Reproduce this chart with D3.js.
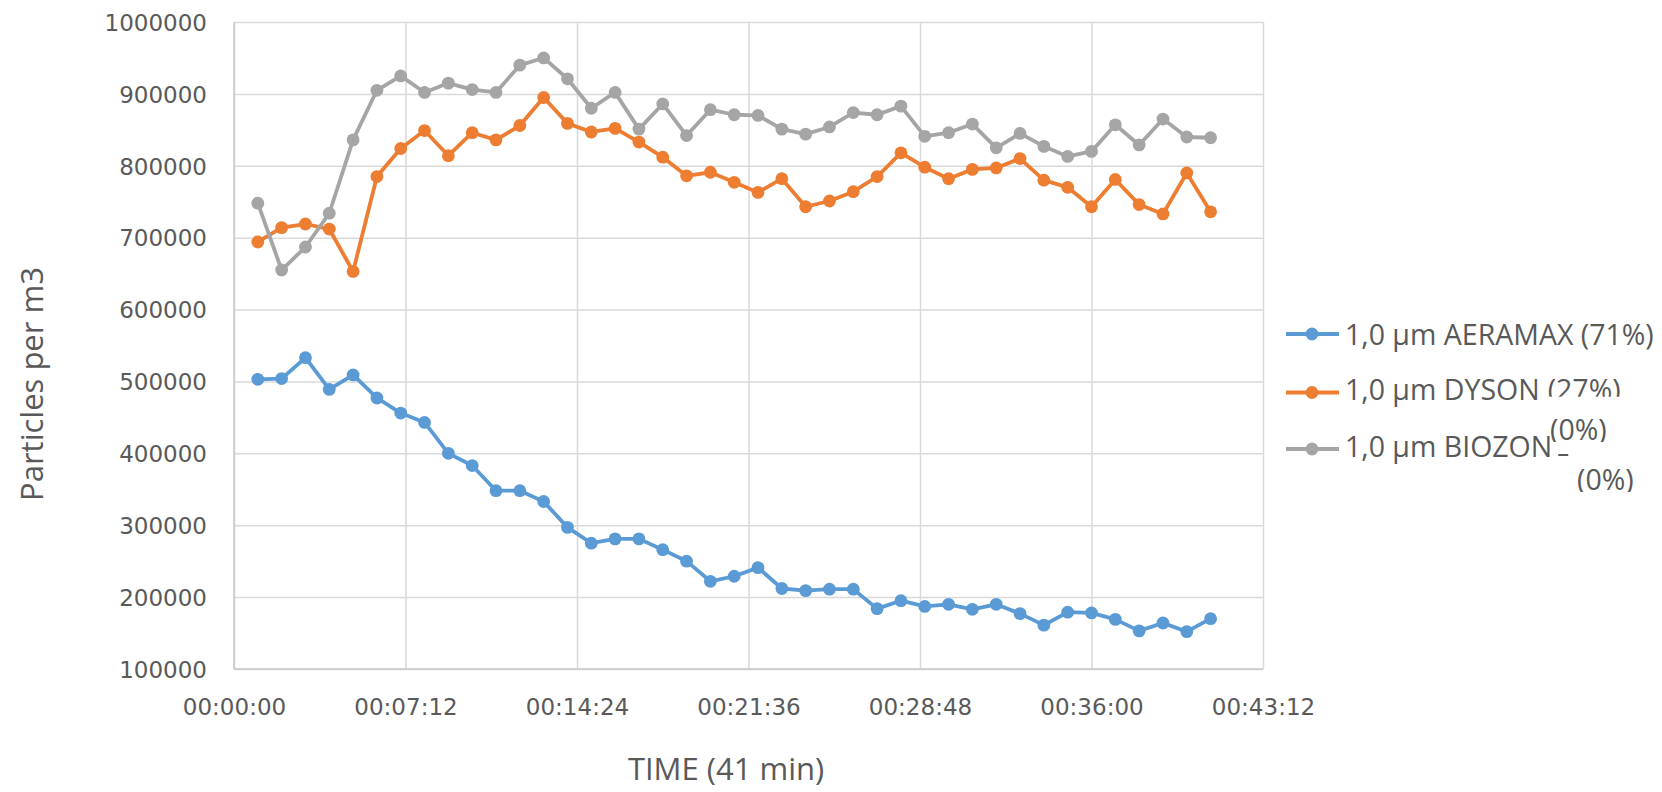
<!DOCTYPE html>
<html>
<head>
<meta charset="utf-8">
<script src="https://cdn.jsdelivr.net/npm/d3@7"></script>
<style>
  html, body { margin: 0; padding: 0; background: #fff; }
  svg { display: block; }
</style>
</head>
<body>
<svg id="chart" width="1662" height="792"></svg>
<script>
// ---------- DATA ----------
const minutes = [1,2,3,4,5,6,7,8,9,10,11,12,13,14,15,16,17,18,19,20,21,22,23,24,25,26,27,28,29,30,31,32,33,34,35,36,37,38,39,40,41];
const aeramax = [503000,504000,533000,489000,509000,477000,456000,443000,400000,383000,348000,348000,333000,297000,275000,281000,281000,266000,250000,222000,229000,241000,212000,209000,211000,211000,184000,195000,187000,190000,183000,190000,177000,161000,179000,178000,169000,153000,164000,152000,170000];
const dyson = [694000,714000,719000,712000,653000,785000,824000,849000,814000,846000,836000,856000,895000,859000,847000,852000,833000,812000,786000,791000,777000,763000,782000,743000,751000,764000,785000,818000,798000,782000,795000,797000,810000,780000,770000,743000,781000,746000,733000,790000,736000];
const biozon = [748000,655000,687000,734000,836000,905000,925000,902000,915000,906000,902000,940000,950000,921000,880000,902000,851000,886000,842000,878000,871000,870000,851000,844000,854000,874000,871000,883000,841000,846000,858000,825000,845000,827000,813000,820000,857000,829000,865000,840000,839000];
const xTickSeconds = [0,432,864,1296,1728,2160,2592];
const yTicks = [100000,200000,300000,400000,500000,600000,700000,800000,900000,1000000];
const seriesNames = ["1,0 µm AERAMAX (71%)", "1,0 µm DYSON", "1,0 µm BIOZON"];
const seriesColors = ["#5b9bd5", "#ed7d31", "#a5a5a5"];

// ---------- LAYOUT ----------
const svg = d3.select("#chart");
const L = 234, R = 1263, T = 22, B = 669;
const x = d3.scaleLinear().domain([0, 2592]).range([L, R]);
const y = d3.scaleLinear().domain([100000, 1000000]).range([B, T]);
const textColor = "#595959";
const tickFont = "DejaVu Sans, sans-serif";
const labelFont = "'Open Sans', sans-serif";
const lineW = 3.8, markR = 6.4;

const fmt = s => {
  const h = Math.floor(s / 3600), m = Math.floor((s % 3600) / 60), ss = s % 60;
  const p = n => String(n).padStart(2, "0");
  return p(h) + ":" + p(m) + ":" + p(ss);
};

// gridlines
const gx = svg.append("g").attr("transform", `translate(0,${B})`)
  .call(d3.axisBottom(x).tickValues(xTickSeconds).tickSize(-(B - T)).tickFormat(""));
gx.selectAll("line").attr("stroke", "#d9d9d9").attr("stroke-width", 1.5);
gx.select(".domain").remove();
const gy = svg.append("g").attr("transform", `translate(${L},0)`)
  .call(d3.axisLeft(y).tickValues(yTicks).tickSize(-(R - L)).tickFormat(""));
gy.selectAll("line").attr("stroke", "#d9d9d9").attr("stroke-width", 1.5);
gy.select(".domain").remove();

// axis lines
svg.append("line").attr("x1", L).attr("x2", L).attr("y1", T).attr("y2", B)
  .attr("stroke", "#c8c8c8").attr("stroke-width", 1.5);
svg.append("line").attr("x1", L).attr("x2", R).attr("y1", B).attr("y2", B)
  .attr("stroke", "#c8c8c8").attr("stroke-width", 1.5);

// tick labels
const ax = svg.append("g").attr("transform", `translate(0,${B})`)
  .call(d3.axisBottom(x).tickValues(xTickSeconds).tickSize(0).tickPadding(0).tickFormat(fmt));
ax.select(".domain").remove();
ax.selectAll("text").attr("y", 46).attr("dy", 0)
  .attr("font-family", tickFont).attr("font-size", 23).attr("fill", textColor);

const ay = svg.append("g").attr("transform", `translate(${L},0)`)
  .call(d3.axisLeft(y).tickValues(yTicks).tickSize(0).tickPadding(0).tickFormat(d3.format("d")));
ay.select(".domain").remove();
ay.selectAll("text").attr("x", -27).attr("dy", "0.36em")
  .attr("font-family", tickFont).attr("font-size", 23).attr("fill", textColor);

// axis titles
svg.append("text").attr("x", 726).attr("y", 780).attr("text-anchor", "middle")
  .attr("font-family", labelFont).attr("font-size", 31).attr("fill", textColor)
  .text("TIME (41 min)");
svg.append("text").attr("transform", "translate(43,384) rotate(-90)").attr("text-anchor", "middle")
  .attr("font-family", labelFont).attr("font-size", 31).attr("fill", textColor)
  .text("Particles per m3");

// series
const allSeries = [aeramax, dyson, biozon];
const line = d3.line().x((d, i) => x(minutes[i] * 60)).y(d => y(d));
allSeries.forEach((vals, k) => {
  const g = svg.append("g");
  g.append("path").datum(vals).attr("d", line).attr("fill", "none")
    .attr("stroke", seriesColors[k]).attr("stroke-width", lineW).attr("stroke-linejoin", "round");
  g.selectAll("circle").data(vals).join("circle")
    .attr("cx", (d, i) => x(minutes[i] * 60)).attr("cy", d => y(d)).attr("r", markR)
    .attr("fill", seriesColors[k]);
});

// legend
const defs = svg.append("defs");
function clipBelow(id, yMax) {
  defs.append("clipPath").attr("id", id).append("rect")
    .attr("x", 0).attr("y", 0).attr("width", 1662).attr("height", yMax);
}
const legRows = [345, 400, 457];
const legMarkerY = [334, 392.5, 449];
legRows.forEach((base, k) => {
  svg.append("line").attr("x1", 1286).attr("x2", 1339).attr("y1", legMarkerY[k]).attr("y2", legMarkerY[k])
    .attr("stroke", seriesColors[k]).attr("stroke-width", lineW);
  svg.append("circle").attr("cx", 1312).attr("cy", legMarkerY[k]).attr("r", markR).attr("fill", seriesColors[k]);
});
const legendTexts = legRows.map((base, k) =>
  svg.append("text").attr("x", 1345).attr("y", base)
    .attr("font-family", labelFont).attr("font-size", 28.5).attr("fill", textColor)
    .text(seriesNames[k]));

// DYSON percentage (clipped)
clipBelow("clipDyson", 396.7);
const dysonW = legendTexts[1].node().getComputedTextLength();
svg.append("text").attr("x", 1345 + dysonW + 8).attr("y", 400)
  .attr("clip-path", "url(#clipDyson)")
  .attr("font-family", labelFont).attr("font-size", 28.5).attr("fill", textColor)
  .text("(27%)");

// BIOZON percentages (overflowing, clipped)
const bioW = legendTexts[2].node().getComputedTextLength();
svg.append("line").attr("x1", 1345 + bioW + 6).attr("x2", 1345 + bioW + 16).attr("y1", 455).attr("y2", 455)
  .attr("stroke", textColor).attr("stroke-width", 2);
clipBelow("clipBio1", 442);
svg.append("text").attr("x", 1550).attr("y", 440).attr("clip-path", "url(#clipBio1)")
  .attr("font-family", labelFont).attr("font-size", 28.5).attr("fill", textColor).text("(0%)");
clipBelow("clipBio2", 492);
svg.append("text").attr("x", 1577).attr("y", 490).attr("clip-path", "url(#clipBio2)")
  .attr("font-family", labelFont).attr("font-size", 28.5).attr("fill", textColor).text("(0%)");
</script>
</body>
</html>
